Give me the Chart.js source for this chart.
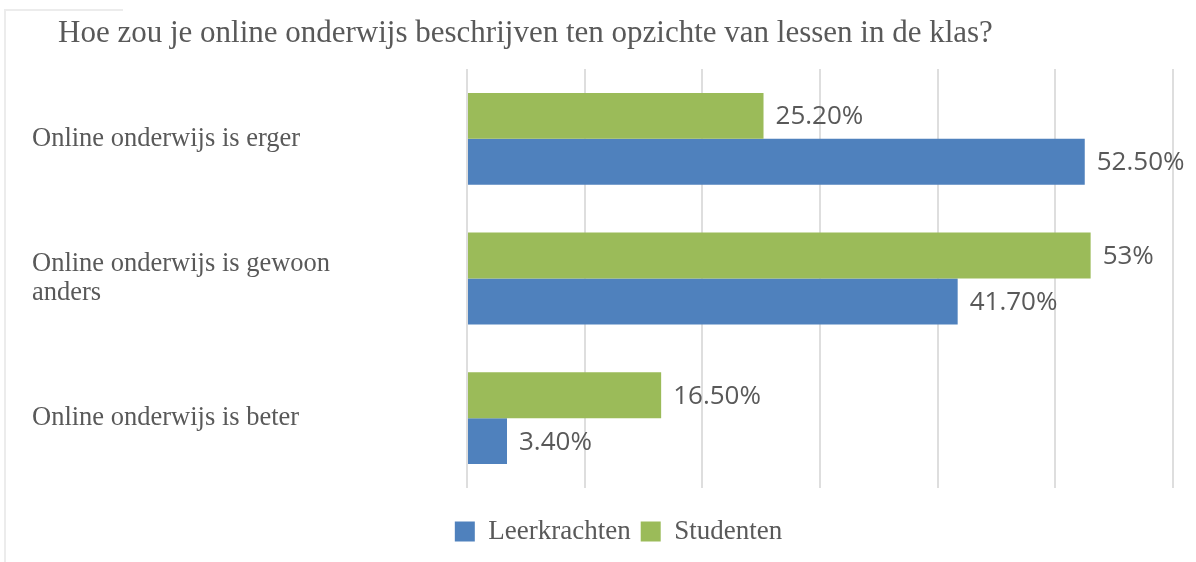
<!DOCTYPE html>
<html>
<head>
<meta charset="utf-8">
<script src="https://cdn.jsdelivr.net/npm/chart.js@4.4.1/dist/chart.umd.min.js"></script>
<style>
  html, body { margin: 0; padding: 0; background: #fff; }
  #wrap { width: 1196px; height: 562px; position: relative; }
</style>
</head>
<body>
<div id="wrap"><canvas id="c"></canvas></div>
<script>
// chart data
const title = 'Hoe zou je online onderwijs beschrijven ten opzichte van lessen in de klas?';
const categories = [
  'Online onderwijs is erger',
  ['Online onderwijs is gewoon', 'anders'],
  'Online onderwijs is beter'
];
const studenten = [25.2, 53, 16.5];
const leerkrachten = [52.5, 41.7, 3.4];
const studentenLabels = ['25.20%', '53%', '16.50%'];
const leerkrachtenLabels = ['52.50%', '41.70%', '3.40%'];
const xTicks = { min: 0, max: 60, step: 10 };

const textGray = '#595959';

// value labels next to the bars + title + faint frame
const extras = {
  id: 'extras',
  afterLayout(chart) {
    // legend sits a bit right of centre in the original
    chart.legend.left += 16;
    chart.legend.right += 16;
  },
  beforeDraw(chart) {
    const ctx = chart.ctx;
    ctx.save();
    ctx.strokeStyle = '#ececec';
    ctx.lineWidth = 2;
    ctx.beginPath();
    ctx.moveTo(123, 10);
    ctx.lineTo(5, 10);
    ctx.lineTo(5, 562);
    ctx.stroke();
    ctx.restore();
  },
  afterDatasetsDraw(chart) {
    const ctx = chart.ctx;
    ctx.save();
    ctx.font = '26px "Open Sans"';
    ctx.fillStyle = textGray;
    ctx.textBaseline = 'middle';
    ctx.textAlign = 'left';
    chart.data.datasets.forEach((ds, i) => {
      const meta = chart.getDatasetMeta(i);
      meta.data.forEach((bar, j) => {
        ctx.fillText(ds.valueLabels[j], bar.x + 12, bar.y + 1);
      });
    });
    ctx.font = '31px "Liberation Serif"';
    ctx.textBaseline = 'alphabetic';
    ctx.fillText(title, 58, 42);
    ctx.restore();
  }
};

new Chart(document.getElementById('c'), {
  type: 'bar',
  data: {
    labels: categories,
    datasets: [
      { label: 'Studenten', data: studenten, valueLabels: studentenLabels, backgroundColor: '#9bbb59' },
      { label: 'Leerkrachten', data: leerkrachten, valueLabels: leerkrachtenLabels, backgroundColor: '#4f81bd' }
    ]
  },
  options: {
    indexAxis: 'y',
    responsive: true,
    maintainAspectRatio: false,
    animation: false,
    datasets: { bar: { categoryPercentage: 0.657, barPercentage: 1.0 } },
    layout: { padding: { left: 32, right: 23, top: 69, bottom: 7 } },
    scales: {
      x: {
        min: xTicks.min,
        max: xTicks.max,
        ticks: { display: false, stepSize: xTicks.step },
        grid: { color: '#dedede', lineWidth: 2, drawTicks: false },
        border: { display: false },
        afterFit(scale) { scale.height = 20; }
      },
      y: {
        grid: { display: false },
        border: { display: false },
        ticks: {
          crossAlign: 'far',
          color: textGray,
          font: { family: '"Liberation Serif"', size: 26.5, lineHeight: 1.09 }
        },
        afterFit(scale) { scale.width = 435; }
      }
    },
    plugins: {
      legend: {
        position: 'bottom',
        reverse: true,
        labels: {
          boxWidth: 20,
          boxHeight: 20,
          padding: 10,
          color: textGray,
          font: { family: '"Liberation Serif"', size: 27 }
        }
      },
      tooltip: { enabled: false },
      title: { display: false }
    }
  },
  plugins: [extras]
});
</script>
</body>
</html>
